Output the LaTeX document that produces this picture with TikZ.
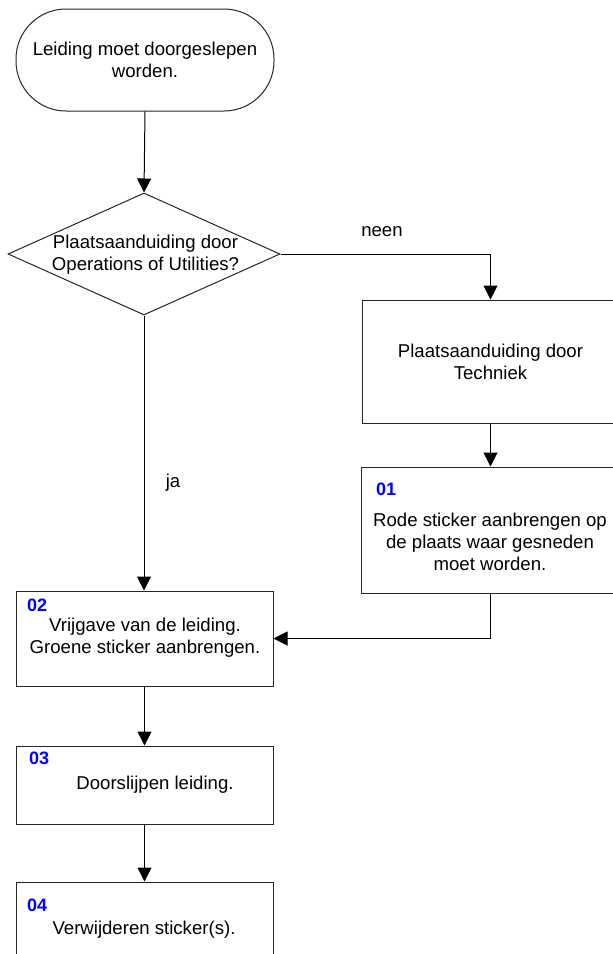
\documentclass[tikz,border=0pt]{standalone}
\usepackage{fontspec}
\setmainfont{Liberation Sans}
\usetikzlibrary{arrows.meta,shapes.geometric}
\begin{document}
\begin{tikzpicture}[x=1pt,y=-1pt,
  every node/.style={font=\fontsize{18.6}{22}\selectfont},
  box/.style={draw=black!85,line width=1pt,rectangle,minimum width=257pt,inner sep=0pt},
  txt/.style={align=center,inner sep=0pt},
  num/.style={inner sep=0pt,anchor=west,text=blue,font=\fontsize{18}{20}\selectfont\bfseries},
  lbl/.style={inner sep=0pt},
  conn/.style={line width=1pt,-{Triangle[length=14pt,width=14pt]}}
]
\useasboundingbox (0,0) rectangle (613,954);
\clip (0,0) rectangle (613,954);
\fill[white] (0,0) rectangle (613,954);

% start terminal
\node[box,minimum width=258pt,minimum height=102pt,rounded corners=50pt] (start) at (145,60) {};
\node[txt] (starttxt) at (145,60) {Leiding moet doorgeslepen\\worden.};

% decision
\node[draw=black!85,line width=1pt,diamond,minimum width=272pt,minimum height=122pt,inner sep=0pt] (dec) at (144,254) {};
\node[txt] (dectxt) at (145.5,255) {Plaatsaanduiding door\\Operations of Utilities?};

% Techniek
\node[box,minimum height=123pt] (tech) at (490.5,361.5) {};
\node[txt] (techtxt) at (490.5,361.5) {Plaatsaanduiding door\\Techniek};

% 01
\node[box,minimum height=126pt] (b01) at (490,530) {};
\node[num] (n01) at (376,489) {01};
\node[txt] (t01) at (490,542) {Rode sticker aanbrengen op\\de plaats waar gesneden\\moet worden.};

% 02
\node[box,minimum height=95pt] (b02) at (144.5,638.5) {};
\node[num] (n02) at (27,605) {02};
\node[txt] (t02) at (145,637.5) {Vrijgave van de leiding.\\Groene sticker aanbrengen.};

% 03
\node[box,minimum height=78pt] (b03) at (144.5,785) {};
\node[num] (n03) at (29,758) {03};
\node[txt] (t03) at (155,785) {Doorslijpen leiding.};

% 04
\node[box,minimum height=78pt] (b04) at (144.5,921) {};
\node[num] (n04) at (27,905) {04};
\node[txt] (t04) at (144,930) {Verwijderen sticker(s).};

% labels
\node[lbl] (neen) at (382,232) {neen};
\node[lbl] (ja) at (173,483) {ja};

% connectors
\draw[conn] (start.south) -- (dec.north);
\draw[conn] (dec.east) -| (tech.north);
\draw[conn] (tech.south) -- (tech.south |- b01.north);
\draw[conn] (b01.south) |- (b02.east);
\draw[conn] (dec.south) -- (dec.south |- b02.north);
\draw[conn] (b02.south) -- (b03.north);
\draw[conn] (b03.south) -- (b04.north);
\end{tikzpicture}
\end{document}
